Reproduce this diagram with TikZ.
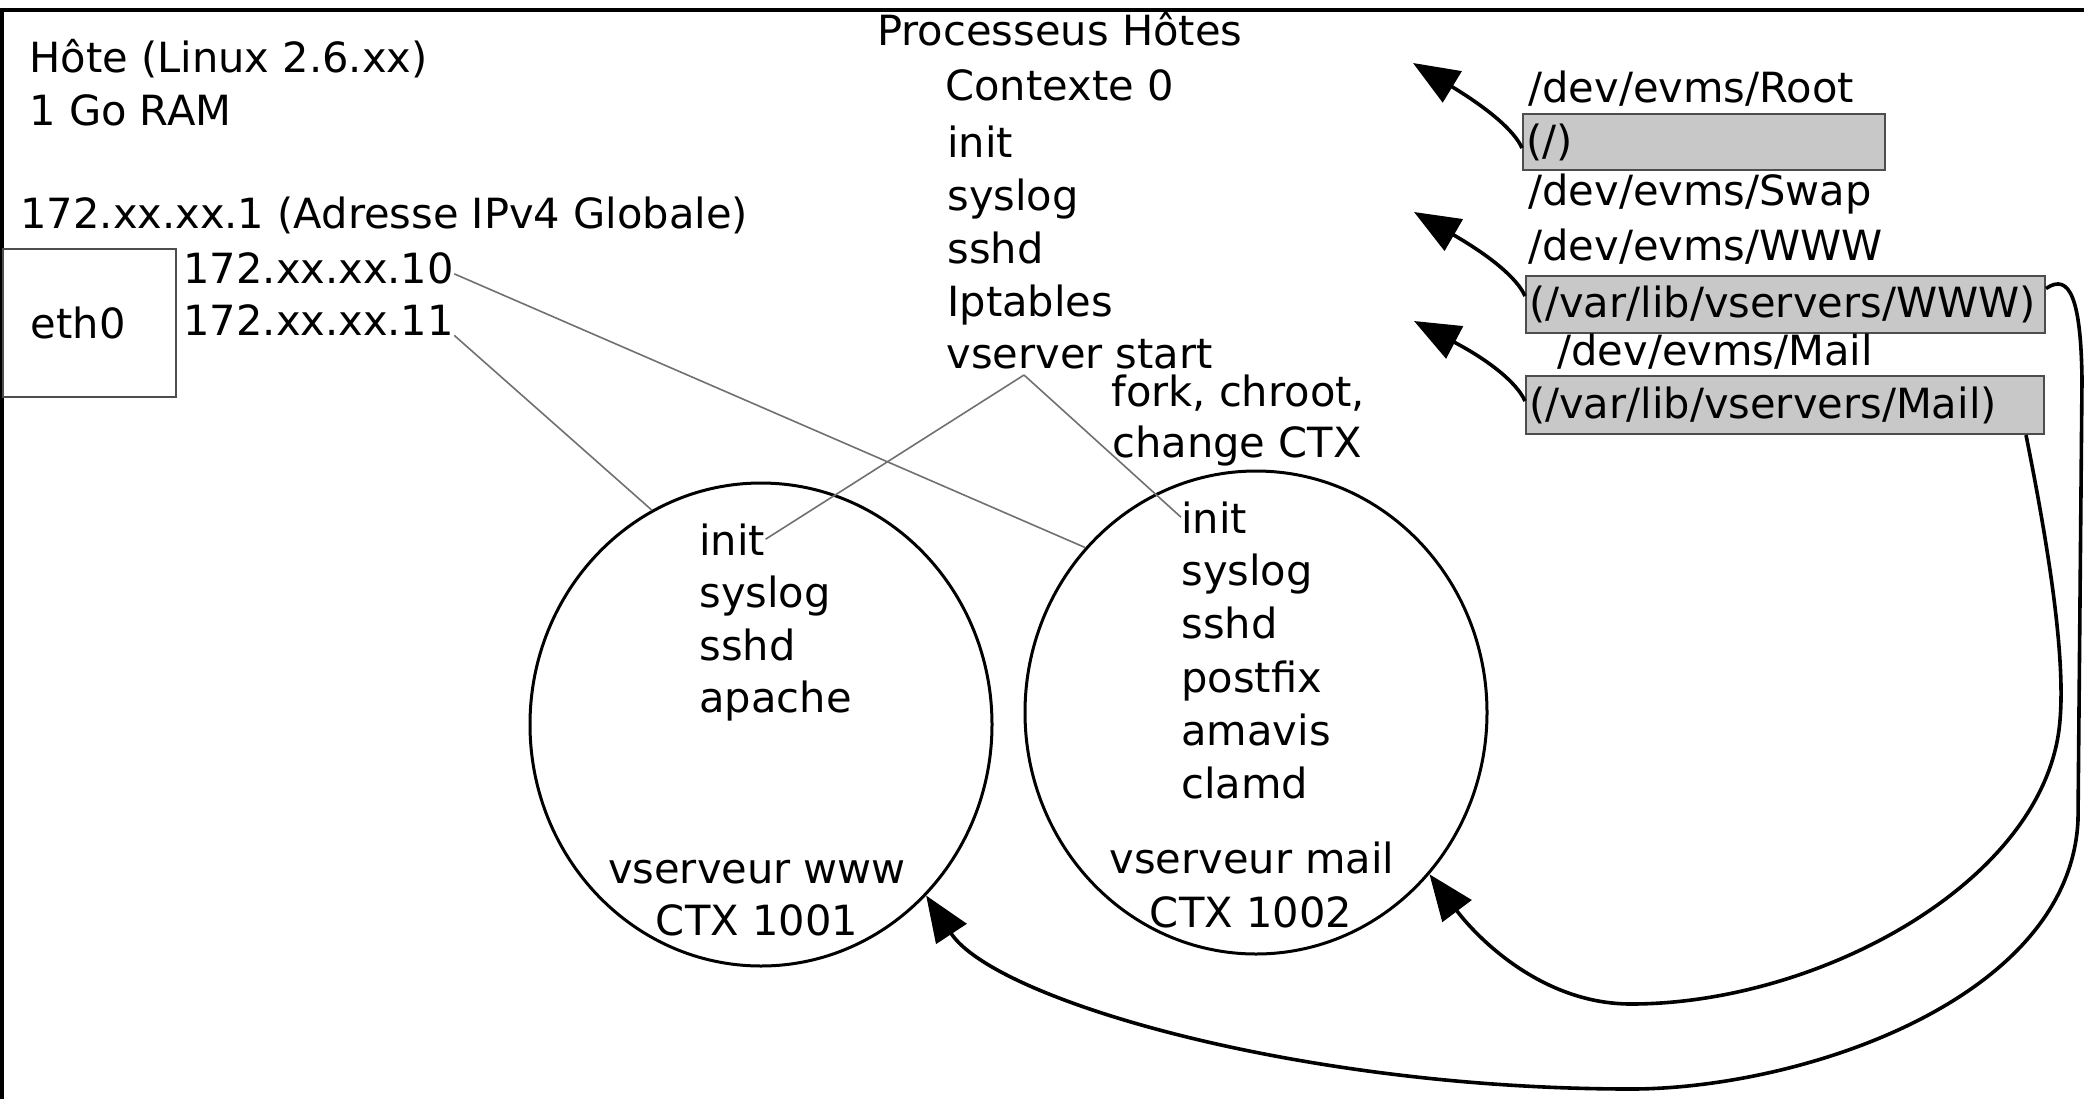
\documentclass[tikz,border=0pt]{standalone}
\usepackage{fontspec}
\setmainfont{DejaVu Sans}
\usetikzlibrary{shapes.geometric,arrows.meta,calc}
\definecolor{boxfill}{HTML}{C8C8C8}
\definecolor{boxdraw}{HTML}{4D4D4D}
\definecolor{fineline}{HTML}{707070}
\begin{document}
\begin{tikzpicture}[x=0.5pt,y=-0.5pt,
  font=\fontsize{20.8pt}{26.4pt}\selectfont,
  txt/.style={anchor=base west, inner sep=0pt},
  ctxt/.style={anchor=base, inner sep=0pt},
  frameline/.style={line width=2pt, black},
  ethbox/.style={draw=boxdraw, line width=1pt, anchor=north west,
     minimum height=74pt, text width=58.5pt, inner xsep=14pt, align=left},
  gbox/.style={draw=boxdraw, fill=boxfill, line width=1pt, anchor=north west,
     inner xsep=1.5pt, inner ysep=0pt, align=left},
  vsrv/.style={ellipse, draw, line width=1.5pt, minimum width=231pt,
     minimum height=241.5pt, inner sep=0pt},
  finel/.style={draw=fineline, line width=0.8pt},
  bigarrow/.style={draw, line width=1.8pt, -{Triangle[length=23pt,width=18pt]}}
]
\useasboundingbox (0,0) rectangle (2084,1099);
% frame
\draw[frameline] (2,1099) -- (2,10) -- (2084,10);

% host info
\node[txt] (hote) at (29,72) {Hôte (Linux 2.6.xx)};
\node[txt] (ram) at (29,125) {1 Go RAM};
\node[txt] (ipg) at (20,228) {172.xx.xx.1 (Adresse IPv4 Globale)};
\node[ethbox] (eth0) at (2,248) {eth0};
\node[txt] (ip10) at (183,283) {172.xx.xx.10};
\node[txt] (ip11) at (183,335) {172.xx.xx.11};

% host processes
\node[txt] (proc) at (877,45) {Processeus Hôtes};
\node[txt] (ctx0) at (945,100) {Contexte 0};
\node[txt] (hinit) at (947,157) {init};
\node[txt] (hsyslog) at (947,210) {syslog};
\node[txt] (hsshd) at (947,263) {sshd};
\node[txt] (hipt) at (947,316) {Iptables};
\node[txt] (vs) at (946,368) {vserver start};
\node[txt] (fork) at (1111,406) {fork, chroot,};
\node[txt] (chg) at (1112,457) {change CTX};

% vservers
\node[vsrv] (www) at (761,724.5) {};
\node[vsrv] (mail) at (1256,712.5) {};

\node[txt] (winit) at (699,555) {init};
\node[txt] (wsyslog) at (699,607) {syslog};
\node[txt] (wsshd) at (699,660) {sshd};
\node[txt] (wapache) at (699,712) {apache};
\node[ctxt] (wname) at (757,883) {vserveur www};
\node[ctxt] (wctx) at (757,935) {CTX 1001};

\node[txt] (minit) at (1181,533) {init};
\node[txt] (msyslog) at (1181,585) {syslog};
\node[txt] (msshd) at (1181,638) {sshd};
\node[txt] (mpostfix) at (1181,692) {postfix};
\node[txt] (mamavis) at (1181,745) {amavis};
\node[txt] (mclamd) at (1181,798) {clamd};
\node[ctxt] (mname) at (1252,873) {vserveur mail};
\node[ctxt] (mctx) at (1251,927) {CTX 1002};

% devices
\node[txt] (droot) at (1528,102) {/dev/evms/Root};
\node[gbox, minimum width=181pt, minimum height=28pt, text width=178pt] (broot) at (1522,113) {(/)};
\node[txt] (dswap) at (1528,205) {/dev/evms/Swap};
\node[txt] (dwww) at (1528,260) {/dev/evms/WWW};
\node[gbox, minimum width=259.5pt, minimum height=28.5pt, text width=256.5pt] (bwww) at (1525,275) {(/var/lib/vservers/WWW)};
\node[txt] (dmail) at (1557,365) {/dev/evms/Mail};
\node[gbox, minimum width=259pt, minimum height=29pt, text width=256pt] (bmail) at (1525,375) {(/var/lib/vservers/Mail)};

% thin connectors
\draw[finel] ([yshift=-3pt]ip10.east) -- (mail.136);
\draw[finel] (ip11.south east) -- (www.117);
\coordinate (vsfork) at ([xshift=39pt,yshift=-3.5pt]vs.base west);
\draw[finel] (vsfork) -- (winit.east);
\draw[finel] (vsfork) -- (minit.west);

% mount arrows
\coordinate (sroot) at ([yshift=-3pt]broot.west);
\coordinate (swww) at ([yshift=4.25pt]bwww.west);
\coordinate (smail) at ([yshift=2pt]bmail.west);
\coordinate (troot) at (1413,63);
\coordinate (twww) at (1414,212);
\coordinate (tmail) at (1414,321);
\draw[bigarrow] (sroot) .. controls ($(sroot)+(-8,-18)$) and ($(sroot)+(-35,-40)$) .. (troot);
\draw[bigarrow] (swww) .. controls ($(swww)+(-8,-18)$) and ($(swww)+(-35,-40)$) .. (twww);
\draw[bigarrow] (smail) .. controls ($(smail)+(-8,-18)$) and ($(smail)+(-35,-40)$) .. (tmail);

% long arrows to vservers
\draw[bigarrow] ([yshift=8pt]bwww.east) .. controls (2070,272) and (2081,300) .. (2082,380)
   -- (2078,820) .. controls (2070,1000) and (1800,1089) .. (1631,1089)
   .. controls (1300,1089) and (995,1000) .. (www.-46);
\draw[bigarrow] ([xshift=-9.5pt]bmail.south east) .. controls (2045,530) and (2066,650) .. (2060,720)
   .. controls (2048,880) and (1820,1004) .. (1631,1004)
   .. controls (1540,1004) and (1475,935) .. (mail.-43);
\end{tikzpicture}
\end{document}
